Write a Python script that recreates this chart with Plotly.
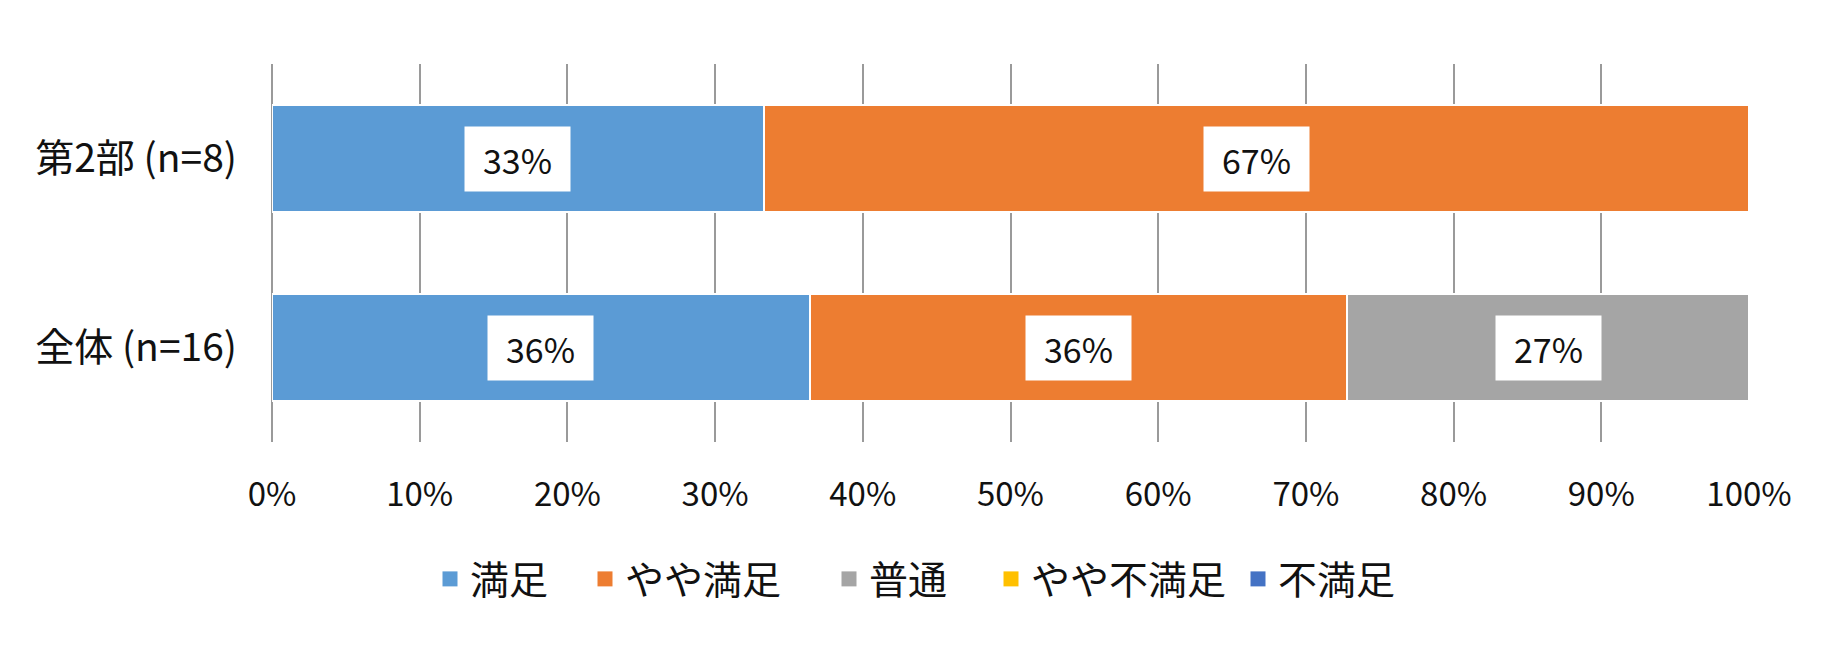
import plotly.graph_objects as go

categories = ["第2部 (n=8)", "全体 (n=16)"]
series_names = ["満足", "やや満足", "普通", "やや不満足", "不満足"]
series_colors = ["#5B9BD5", "#ED7D31", "#A5A5A5", "#FFC000", "#4472C4"]
v_manzoku = [33.3, 36.4]
v_yaya_manzoku = [66.7, 36.4]
v_futsuu = [0, 27.2]
v_yaya_fuman = [0, 0]
v_fuman = [0, 0]
series_values = [v_manzoku, v_yaya_manzoku, v_futsuu, v_yaya_fuman, v_fuman]
tick_vals = [0, 10, 20, 30, 40, 50, 60, 70, 80, 90, 100]
tick_text = ["0%", "10%", "20%", "30%", "40%", "50%", "60%", "70%", "80%", "90%", "100%"]

FONT = "Noto Sans CJK JP, Noto Sans, sans-serif"
W, H = 1826, 658
legend_left_px = [430, 585, 829, 991, 1238]

fig = go.Figure()
for k, (name, color, vals) in enumerate(zip(series_names, series_colors, series_values)):
    lg = "legend" if k == 0 else f"legend{k + 1}"
    fig.add_trace(go.Bar(
        y=categories,
        x=[v if v > 0 else None for v in vals],
        name=name,
        orientation="h",
        marker=dict(color=color, line=dict(color="white", width=2)),
        hoverinfo="skip",
        showlegend=False,
    ))
    # legend entry with a larger square swatch
    fig.add_trace(go.Scatter(
        x=[None], y=[None], mode="markers", name=name, legend=lg,
        marker=dict(symbol="square", size=15, color=color, line=dict(width=0)),
        hoverinfo="skip", showlegend=True,
    ))

# data labels in white boxes
annotations = []
for ci, cat in enumerate(categories):
    base = 0.0
    for vals in series_values:
        v = vals[ci]
        if v > 0:
            annotations.append(dict(
                x=base + v / 2, y=cat, xref="x", yref="y",
                text=f"{round(v)}%", showarrow=False,
                font=dict(family=FONT, size=34, color="#111111"),
                bgcolor="white", width=105, height=64, borderpad=0,
                xanchor="center", yanchor="middle",
            ))
        base += v

legend_common = dict(
    orientation="h", xref="container", yref="container",
    xanchor="left", y=0.12, yanchor="middle",
    font=dict(family=FONT, size=39, color="#111111"),
    itemclick=False, itemdoubleclick=False, bgcolor="rgba(0,0,0,0)",
)
legends = {}
for k, px in enumerate(legend_left_px):
    key = "legend" if k == 0 else f"legend{k + 1}"
    legends[key] = dict(legend_common, x=px / W)

fig.update_layout(
    barmode="stack",
    bargap=0.43,
    width=W, height=H,
    margin=dict(l=272, r=77, t=64, b=216),
    paper_bgcolor="white", plot_bgcolor="white",
    font=dict(family=FONT, size=33, color="#111111"),
    annotations=annotations,
    showlegend=True,
    **legends,
)
fig.update_xaxes(
    range=[0, 100], tickvals=tick_vals, ticktext=tick_text,
    showgrid=True, gridcolor="#9a9a9a", gridwidth=2,
    zeroline=True, zerolinecolor="#9a9a9a", zerolinewidth=2,
    showline=False, ticks="", ticklabelstandoff=30,
    tickfont=dict(family=FONT, size=33, color="#111111"),
    fixedrange=True,
)
fig.update_yaxes(
    autorange="reversed", showgrid=False, zeroline=False, ticks="",
    ticklabelstandoff=34,
    tickfont=dict(family=FONT, size=39, color="#111111"),
    fixedrange=True,
)

fig.write_html("out.html")
